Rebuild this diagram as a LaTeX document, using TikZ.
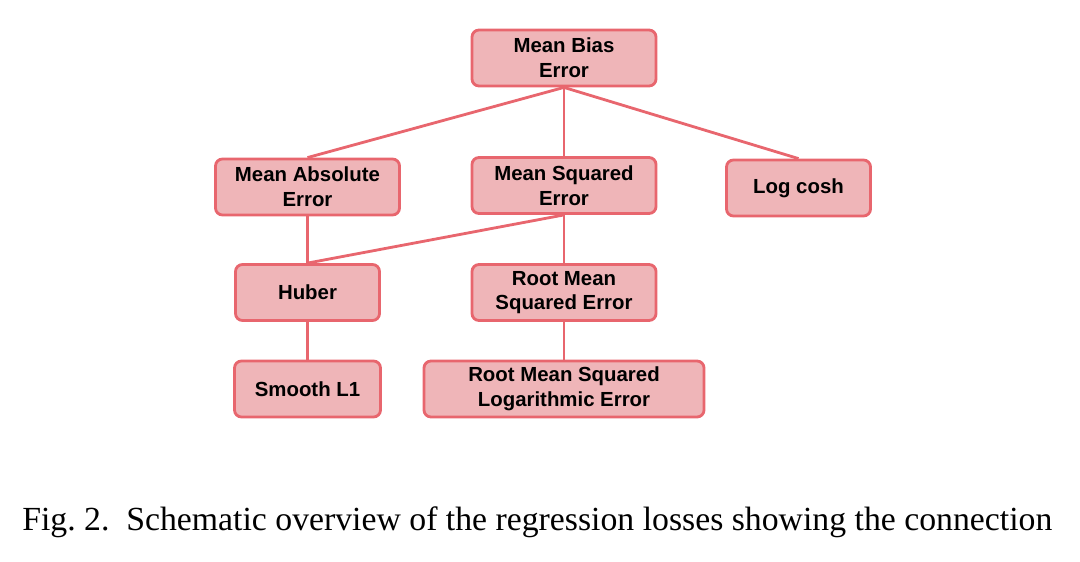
\documentclass[tikz,border=0pt]{standalone}
\usepackage{fontspec}
\setmainfont{Liberation Serif}
\setsansfont{Liberation Sans}
\usetikzlibrary{positioning}
\definecolor{lossfill}{HTML}{EFB5B8}
\definecolor{lossline}{HTML}{E8666E}

\tikzset{
    lossbox/.style={draw=lossline, fill=lossfill, line width=2pt, rounded corners=5pt,
        minimum height=1.4cm, align=center, font=\sffamily\bfseries\fontsize{14.5}{17.5}\selectfont},
    link/.style={draw=lossline, line width=2pt}
}

\begin{document}
\begin{tikzpicture}[x=0.025cm, y=-0.025cm]
\useasboundingbox (0,0) rectangle (1080,561);
% top level
\node[lossbox, minimum width=4.6cm] (mbe) at (564,58) {Mean Bias\\Error};
% second level
\node[lossbox, minimum width=4.6cm] (mae) at (307.5,187) {Mean Absolute\\Error};
\node[lossbox, minimum width=4.6cm] (mse) at (564,185.5) {Mean Squared\\Error};
\node[lossbox, minimum width=3.6cm] (logcosh) at (798.5,188) {Log cosh};
% third level
\node[lossbox, minimum width=3.6cm] (huber) at (307.5,292.5) {Huber};
\node[lossbox, minimum width=4.6cm] (rmse) at (564,292.5) {Root Mean\\Squared Error};
% bottom level
\node[lossbox, minimum width=3.65cm] (smoothl1) at (307.5,389) {Smooth L1};
\node[lossbox, minimum width=7cm] (rmsle) at (564,389) {Root Mean Squared\\Logarithmic Error};

\draw[link] (mbe.south) -- (mae.north);
\draw[link] (mbe.south) -- (mse.north);
\draw[link] (mbe.south) -- (logcosh.north);
\draw[link] (mae.south) -- (huber.north);
\draw[link] (mse.south) -- (huber.north);
\draw[link] (mse.south) -- (rmse.north);
\draw[link] (huber.south) -- (smoothl1.north);
\draw[link] (rmse.south) -- (rmsle.north);

\node[anchor=base west, inner sep=0pt, font=\fontsize{24}{28}\selectfont] (caption) at (22,530)
    {Fig.~2.\enspace Schematic overview of the regression losses showing the connection};
\end{tikzpicture}
\end{document}
